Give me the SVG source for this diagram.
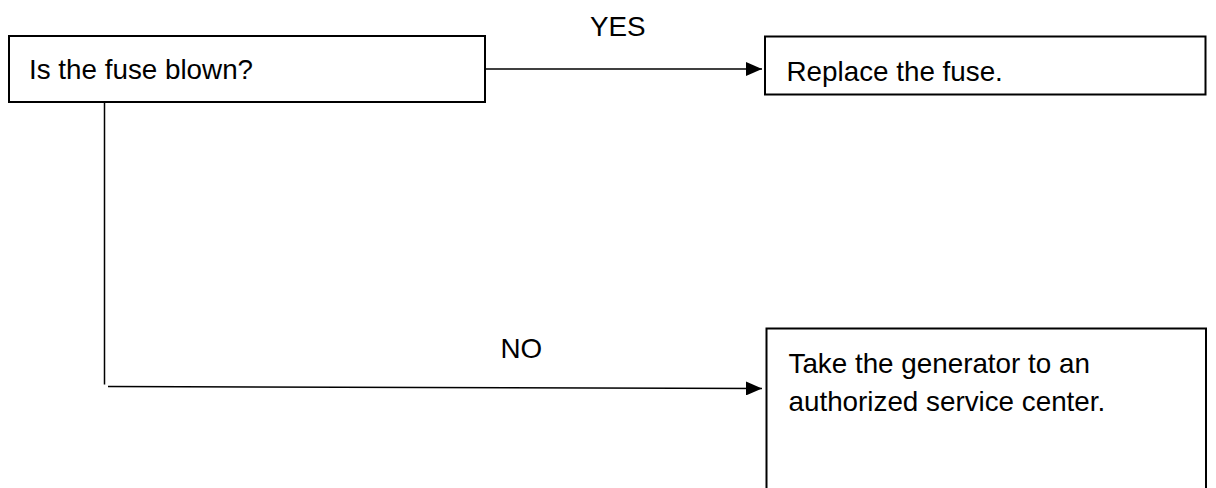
<svg xmlns="http://www.w3.org/2000/svg" width="1216" height="488" viewBox="0 0 1216 488">
<defs>
<style>
.box{fill:#fff;stroke:#000;stroke-width:2}
.lbl{font-family:"Liberation Sans",Arial,sans-serif;font-size:27.8px;fill:#000}
.edge{stroke:#000;stroke-width:1.5;fill:none}
</style>
<marker id="arr" viewBox="0 0 16 14" refX="16" refY="7" markerWidth="16" markerHeight="14" markerUnits="userSpaceOnUse" orient="auto">
<path d="M0,0 L16,7 L0,14 Z" fill="#000"/>
</marker>
</defs>
<rect width="1216" height="488" fill="#fff"/>
<g id="connectors">
<line class="edge" x1="485" y1="69" x2="762" y2="69" marker-end="url(#arr)"/>
<line class="edge" x1="104.5" y1="102" x2="104.5" y2="384.5"/>
<line class="edge" x1="108" y1="386.5" x2="762" y2="388.5" marker-end="url(#arr)"/>
<text class="lbl" x="590" y="36">YES</text>
<text class="lbl" x="500.5" y="358">NO</text>
</g>
<g id="node-fuse">
<rect class="box" x="9" y="36" width="476" height="66"/>
<text class="lbl" x="29" y="78.5">Is the fuse blown?</text>
</g>
<g id="node-replace">
<rect class="box" x="765" y="36.5" width="440.5" height="58"/>
<text class="lbl" x="786.5" y="80.5">Replace the fuse.</text>
</g>
<g id="node-service">
<rect class="box" x="766.5" y="328.5" width="439.5" height="170"/>
<text class="lbl" x="788.5" y="373.3">Take the generator to an</text>
<text class="lbl" x="788.5" y="410.7">authorized service center.</text>
</g>
</svg>
